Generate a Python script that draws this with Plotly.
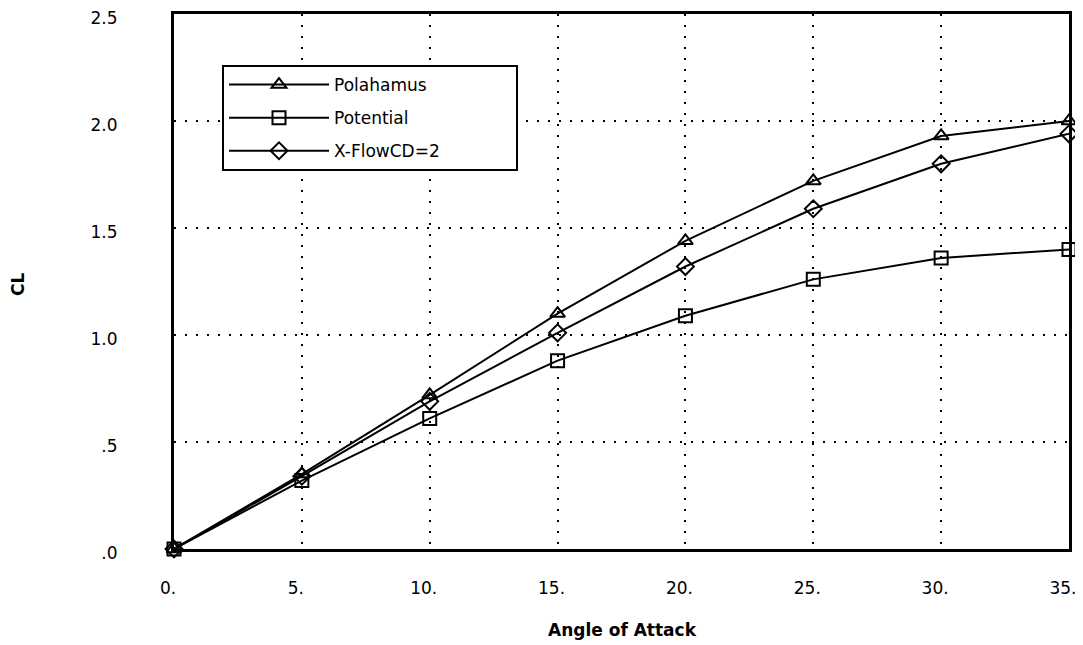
import plotly.graph_objects as go

angle = [0, 5, 10, 15, 20, 25, 30, 35]
polahamus = [0.0, 0.35, 0.72, 1.10, 1.44, 1.72, 1.93, 2.00]
potential = [0.0, 0.32, 0.61, 0.88, 1.09, 1.26, 1.36, 1.40]
xflow = [0.0, 0.34, 0.69, 1.01, 1.32, 1.59, 1.80, 1.94]

x_ticks = [0, 5, 10, 15, 20, 25, 30, 35]
x_labels = ["0.", "5.", "10.", "15.", "20.", "25.", "30.", "35."]
y_ticks = [0, 0.5, 1.0, 1.5, 2.0, 2.5]
y_labels = [".0", ".5", "1.0", "1.5", "2.0", "2.5"]

font = "DejaVu Sans"
fig = go.Figure()
for i, (name, vals, sym) in enumerate([("Polahamus", polahamus, "triangle-up-open"),
                                       ("Potential", potential, "square-open"),
                                       ("X-FlowCD=2", xflow, "diamond-open")]):
    fig.add_trace(go.Scatter(
        x=angle, y=vals, name=name + "&nbsp;" * 13, mode="lines+markers",
        legendgroup=str(i),
        line=dict(color="black", width=2),
        marker=dict(symbol=sym, size=13, color="black", line=dict(width=2, color="black")),
        cliponaxis=False,
    ))

# page is rendered with an 8px body margin
OFF = 8
W, H = 1083 - OFF, 645 - OFF
L, R, T, B = 174 - OFF, 14, 14 - OFF, 96
PW, PH = W - L - R, H - T - B


def px_x(page_x):
    return (page_x - OFF - L) / PW


def px_y(page_y):
    return (H - B - (page_y - OFF)) / PH


fig.update_layout(
    width=W, height=H,
    margin=dict(l=L, r=R, t=T, b=B, autoexpand=False),
    paper_bgcolor="white", plot_bgcolor="white",
    font=dict(family=font, size=17, color="black"),
    showlegend=True,
    legend=dict(x=px_x(222), y=px_y(65), xanchor="left", yanchor="top",
                bordercolor="black", borderwidth=2, bgcolor="white",
                font=dict(family=font, size=17, color="black"),
                tracegroupgap=8, itemwidth=100),
    xaxis=dict(range=[0, 35], tickvals=x_ticks, ticktext=x_labels,
               showgrid=True, gridcolor="black", griddash="2px,9px", gridwidth=2,
               showline=True, linecolor="black", linewidth=3, mirror=True,
               zeroline=False, ticks="", ticklabelstandoff=22, ticklabelshift=-6,
               ticklabeloverflow="allow", automargin=False),
    yaxis=dict(range=[0, 2.5], tickvals=y_ticks, ticktext=y_labels,
               showgrid=True, gridcolor="black", griddash="2px,9px", gridwidth=2,
               showline=True, linecolor="black", linewidth=3, mirror=True,
               zeroline=False, ticks="", ticklabelstandoff=50, ticklabelshift=4,
               ticklabeloverflow="allow", automargin=False),
    annotations=[
        dict(text="<b>Angle of Attack</b>", xref="paper", yref="paper",
             x=px_x(622), y=px_y(630), xanchor="center", yanchor="middle",
             showarrow=False, font=dict(family=font, size=17, color="black")),
        dict(text="<b>CL</b>", xref="paper", yref="paper", textangle=-90,
             x=px_x(18), y=px_y(285),
             xanchor="center", yanchor="middle",
             showarrow=False, font=dict(family=font, size=17, color="black")),
    ],
)
fig.write_html("out.html")
